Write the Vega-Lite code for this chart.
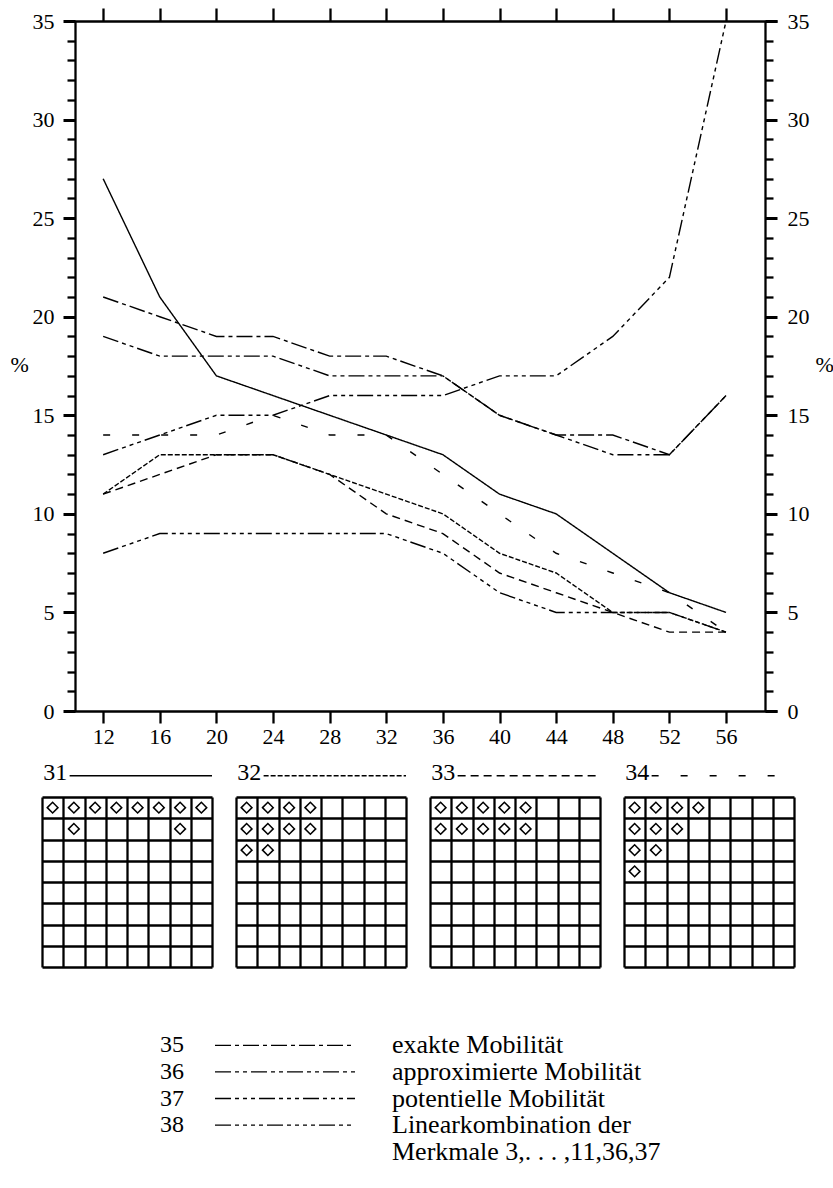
{
  "$schema": "https://vega.github.io/schema/vega-lite/v6.json",
  "padding": {"left": 10, "top": 6, "right": 0, "bottom": 0},
  "background": "white",
  "config": {
    "view": {"stroke": null},
    "font": "Liberation Serif",
    "text": {"font": "Liberation Serif", "fontSize": 21, "color": "black"},
    "axis": {"labelFont": "Liberation Serif", "titleFont": "Liberation Serif", "labelColor": "black", "titleColor": "black", "domainColor": "black", "tickColor": "black", "labelFontSize": 22, "titleFontSize": 22, "titleFontWeight": "normal", "grid": false, "labelFlush": false}
  },
  "datasets": {
    "series": [
      {"x":12,"v":27,"s":"31"},{"x":16,"v":21,"s":"31"},{"x":20,"v":17,"s":"31"},{"x":24,"v":16,"s":"31"},{"x":28,"v":15,"s":"31"},{"x":32,"v":14,"s":"31"},{"x":36,"v":13,"s":"31"},{"x":40,"v":11,"s":"31"},{"x":44,"v":10,"s":"31"},{"x":48,"v":8,"s":"31"},{"x":52,"v":6,"s":"31"},{"x":56,"v":5,"s":"31"},
      {"x":12,"v":11,"s":"32"},{"x":16,"v":13,"s":"32"},{"x":20,"v":13,"s":"32"},{"x":24,"v":13,"s":"32"},{"x":28,"v":12,"s":"32"},{"x":32,"v":11,"s":"32"},{"x":36,"v":10,"s":"32"},{"x":40,"v":8,"s":"32"},{"x":44,"v":7,"s":"32"},{"x":48,"v":5,"s":"32"},{"x":52,"v":5,"s":"32"},{"x":56,"v":4,"s":"32"},
      {"x":12,"v":11,"s":"33"},{"x":16,"v":12,"s":"33"},{"x":20,"v":13,"s":"33"},{"x":24,"v":13,"s":"33"},{"x":28,"v":12,"s":"33"},{"x":32,"v":10,"s":"33"},{"x":36,"v":9,"s":"33"},{"x":40,"v":7,"s":"33"},{"x":44,"v":6,"s":"33"},{"x":48,"v":5,"s":"33"},{"x":52,"v":4,"s":"33"},{"x":56,"v":4,"s":"33"},
      {"x":12,"v":14,"s":"34"},{"x":16,"v":14,"s":"34"},{"x":20,"v":14,"s":"34"},{"x":24,"v":15,"s":"34"},{"x":28,"v":14,"s":"34"},{"x":32,"v":14,"s":"34"},{"x":36,"v":12,"s":"34"},{"x":40,"v":10,"s":"34"},{"x":44,"v":8,"s":"34"},{"x":48,"v":7,"s":"34"},{"x":52,"v":6,"s":"34"},{"x":56,"v":4,"s":"34"},
      {"x":12,"v":21,"s":"35"},{"x":16,"v":20,"s":"35"},{"x":20,"v":19,"s":"35"},{"x":24,"v":19,"s":"35"},{"x":28,"v":18,"s":"35"},{"x":32,"v":18,"s":"35"},{"x":36,"v":17,"s":"35"},{"x":40,"v":15,"s":"35"},{"x":44,"v":14,"s":"35"},{"x":48,"v":14,"s":"35"},{"x":52,"v":13,"s":"35"},{"x":56,"v":16,"s":"35"},
      {"x":12,"v":19,"s":"36"},{"x":16,"v":18,"s":"36"},{"x":20,"v":18,"s":"36"},{"x":24,"v":18,"s":"36"},{"x":28,"v":17,"s":"36"},{"x":32,"v":17,"s":"36"},{"x":36,"v":17,"s":"36"},{"x":40,"v":15,"s":"36"},{"x":44,"v":14,"s":"36"},{"x":48,"v":13,"s":"36"},{"x":52,"v":13,"s":"36"},{"x":56,"v":16,"s":"36"},
      {"x":12,"v":13,"s":"37"},{"x":16,"v":14,"s":"37"},{"x":20,"v":15,"s":"37"},{"x":24,"v":15,"s":"37"},{"x":28,"v":16,"s":"37"},{"x":32,"v":16,"s":"37"},{"x":36,"v":16,"s":"37"},{"x":40,"v":17,"s":"37"},{"x":44,"v":17,"s":"37"},{"x":48,"v":19,"s":"37"},{"x":52,"v":22,"s":"37"},{"x":56,"v":35,"s":"37"},
      {"x":12,"v":8,"s":"38"},{"x":16,"v":9,"s":"38"},{"x":20,"v":9,"s":"38"},{"x":24,"v":9,"s":"38"},{"x":28,"v":9,"s":"38"},{"x":32,"v":9,"s":"38"},{"x":36,"v":8,"s":"38"},{"x":40,"v":6,"s":"38"},{"x":44,"v":5,"s":"38"},{"x":48,"v":5,"s":"38"},{"x":52,"v":5,"s":"38"},{"x":56,"v":4,"s":"38"}
    ],
    "diamonds": [
      {"g":"31","c":1,"r":1},{"g":"31","c":2,"r":1},{"g":"31","c":3,"r":1},{"g":"31","c":4,"r":1},{"g":"31","c":5,"r":1},{"g":"31","c":6,"r":1},{"g":"31","c":7,"r":1},{"g":"31","c":8,"r":1},{"g":"31","c":2,"r":2},{"g":"31","c":7,"r":2},
      {"g":"32","c":1,"r":1},{"g":"32","c":2,"r":1},{"g":"32","c":3,"r":1},{"g":"32","c":4,"r":1},{"g":"32","c":1,"r":2},{"g":"32","c":2,"r":2},{"g":"32","c":3,"r":2},{"g":"32","c":4,"r":2},{"g":"32","c":1,"r":3},{"g":"32","c":2,"r":3},
      {"g":"33","c":1,"r":1},{"g":"33","c":2,"r":1},{"g":"33","c":3,"r":1},{"g":"33","c":4,"r":1},{"g":"33","c":5,"r":1},{"g":"33","c":1,"r":2},{"g":"33","c":2,"r":2},{"g":"33","c":3,"r":2},{"g":"33","c":4,"r":2},{"g":"33","c":5,"r":2},
      {"g":"34","c":1,"r":1},{"g":"34","c":2,"r":1},{"g":"34","c":3,"r":1},{"g":"34","c":4,"r":1},{"g":"34","c":1,"r":2},{"g":"34","c":2,"r":2},{"g":"34","c":3,"r":2},{"g":"34","c":1,"r":3},{"g":"34","c":2,"r":3},{"g":"34","c":1,"r":4}
    ],
    "legend": [
      {"o":1,"n":"35","t":"exakte Mobilität","s":"35"},
      {"o":2,"n":"36","t":"approximierte Mobilität","s":"36"},
      {"o":3,"n":"37","t":"potentielle Mobilität","s":"37"},
      {"o":4,"n":"38","t":"Linearkombination der","s":"38"},
      {"o":5,"n":"","t":"Merkmale 3,. . . ,11,36,37","s":""}
    ]
  },
  "spacing": 14,
  "vconcat": [
    {
      "hconcat": [
        {"width": 22, "height": 10, "data": {"values": [{}]}, "mark": {"type": "point", "opacity": 0}},
        {
          "width": 713, "height": 690,
          "data": {"name": "series"},
          "layer": [
            {
              "mark": {"type": "line", "strokeWidth": 1.4, "color": "black", "clip": false},
              "encoding": {
                "x": {"field": "x", "type": "quantitative", "scale": {"domain": [9.2348, 59.6], "nice": false, "zero": false},
                  "axis": {"orient": "bottom", "values": [12,16,20,24,28,32,36,40,44,48,52,56], "tickSize": 12, "tickWidth": 2.3, "domainWidth": 2.3, "labelPadding": 3, "labelOverlap": false, "title": null}},
                "y": {"field": "v", "type": "quantitative", "scale": {"domain": [0, 35], "nice": false, "zero": false},
                  "axis": {"orient": "left", "offset": -11, "values": [0,1,2,3,4,5,6,7,8,9,10,11,12,13,14,15,16,17,18,19,20,21,22,23,24,25,26,27,28,29,30,31,32,33,34,35],
                    "tickSize": {"condition": {"test": "datum.value % 5 === 0", "value": 12}, "value": 8},
                    "tickWidth": {"condition": {"test": "datum.value % 5 === 0", "value": 3}, "value": 2.3},
                    "labelExpr": "datum.value % 5 === 0 ? datum.label : ''", "labelOverlap": false, "labelPadding": 9, "domainWidth": 2.3,
                    "title": "%", "titleAngle": 0, "titleAlign": "left", "titleBaseline": "middle", "titleX": -65, "titleY": 343}},
                "strokeDash": {"field": "s", "type": "nominal", "legend": null,
                  "scale": {"domain": ["31","32","33","34","35","36","37","38"], "range": [[1,0],[5,2],[8,5],[7,22],[16,4,4,4],[16,4,4,4,4,4],[16,4,4,4,4,4,4,4],[16,4,4,4,4,4,4,4,4,4]]}}
              }
            },
            {
              "mark": {"type": "line", "opacity": 0},
              "encoding": {
                "x": {"field": "x", "type": "quantitative",
                  "axis": {"orient": "top", "values": [12,16,20,24,28,32,36,40,44,48,52,56], "tickSize": 13, "tickWidth": 2.3, "domainWidth": 2.3, "labels": false, "title": null}},
                "y": {"field": "v", "type": "quantitative",
                  "axis": {"orient": "right", "offset": -12, "values": [0,1,2,3,4,5,6,7,8,9,10,11,12,13,14,15,16,17,18,19,20,21,22,23,24,25,26,27,28,29,30,31,32,33,34,35],
                    "tickSize": {"condition": {"test": "datum.value % 5 === 0", "value": 12}, "value": 8},
                    "tickWidth": {"condition": {"test": "datum.value % 5 === 0", "value": 3}, "value": 2.3},
                    "labelExpr": "datum.value % 5 === 0 ? datum.label : ''", "labelOverlap": false, "labelPadding": 10, "domainWidth": 2.3,
                    "title": "%", "titleAngle": 0, "titleAlign": "left", "titleBaseline": "middle", "titleX": 50, "titleY": 343}},
                "detail": {"field": "s", "type": "nominal"}
              }
            }
          ],
          "resolve": {"axis": {"x": "independent", "y": "independent"}}
        }
      ],
      "spacing": 0,
      "bounds": "flush"
    },
    {
      "spacing": 65,
      "vconcat": [
        {
          "spacing": 24,
          "bounds": "flush",
          "hconcat": [
            {
              "width": 170, "height": 170, "data": {"name": "diamonds"}, "transform": [{"filter": "datum.g === '31'"}],
              "layer": [
                {"mark": {"type": "point", "shape": "diamond", "filled": false, "size": 115, "strokeWidth": 1.5, "color": "black", "opacity": 1},
                 "encoding": {
                   "x": {"field": "c", "type": "quantitative", "scale": {"domain": [0.5, 8.5], "nice": false, "zero": false}, "axis": {"values": [0.5,1.5,2.5,3.5,4.5,5.5,6.5,7.5,8.5], "labelOverlap": false, "tickCount": 9, "grid": true, "gridColor": "black", "gridWidth": 2.3, "gridOpacity": 1, "labels": false, "ticks": false, "domain": false, "title": null}},
                   "y": {"field": "r", "type": "quantitative", "scale": {"domain": [0.5, 8.5], "reverse": true, "nice": false, "zero": false}, "axis": {"values": [0.5,1.5,2.5,3.5,4.5,5.5,6.5,7.5,8.5], "labelOverlap": false, "tickCount": 9, "grid": true, "gridColor": "black", "gridWidth": 2.3, "gridOpacity": 1, "labels": false, "ticks": false, "domain": false, "title": null}}
                 }},
                {"transform": [{"aggregate": [{"op": "count", "as": "n"}], "groupby": ["g"]}],
                 "mark": {"type": "text", "align": "left", "baseline": "alphabetic", "fontSize": 24},
                 "encoding": {"x": {"datum": 0.56}, "y": {"datum": -0.3}, "text": {"field": "g"}}},
                {"transform": [{"aggregate": [{"op": "count", "as": "n"}], "groupby": ["g"]}],
                 "mark": {"type": "rule", "strokeWidth": 1.3, "color": "black"},
                 "encoding": {"x": {"datum": 1.8}, "x2": {"datum": 8.5}, "y": {"datum": -0.5},
                   "strokeDash": {"field": "g", "type": "nominal", "legend": null, "scale": {"domain": ["31","32","33","34","35","36","37","38"], "range": [[1,0],[5,2],[8,5],[7,22],[16,4,4,4],[16,4,4,4,4,4],[16,4,4,4,4,4,4,4],[16,4,4,4,4,4,4,4,4,4]]}}}}
              ]
            },
            {
              "width": 170, "height": 170, "data": {"name": "diamonds"}, "transform": [{"filter": "datum.g === '32'"}],
              "layer": [
                {"mark": {"type": "point", "shape": "diamond", "filled": false, "size": 115, "strokeWidth": 1.5, "color": "black", "opacity": 1},
                 "encoding": {
                   "x": {"field": "c", "type": "quantitative", "scale": {"domain": [0.5, 8.5], "nice": false, "zero": false}, "axis": {"values": [0.5,1.5,2.5,3.5,4.5,5.5,6.5,7.5,8.5], "labelOverlap": false, "tickCount": 9, "grid": true, "gridColor": "black", "gridWidth": 2.3, "gridOpacity": 1, "labels": false, "ticks": false, "domain": false, "title": null}},
                   "y": {"field": "r", "type": "quantitative", "scale": {"domain": [0.5, 8.5], "reverse": true, "nice": false, "zero": false}, "axis": {"values": [0.5,1.5,2.5,3.5,4.5,5.5,6.5,7.5,8.5], "labelOverlap": false, "tickCount": 9, "grid": true, "gridColor": "black", "gridWidth": 2.3, "gridOpacity": 1, "labels": false, "ticks": false, "domain": false, "title": null}}
                 }},
                {"transform": [{"aggregate": [{"op": "count", "as": "n"}], "groupby": ["g"]}],
                 "mark": {"type": "text", "align": "left", "baseline": "alphabetic", "fontSize": 24},
                 "encoding": {"x": {"datum": 0.56}, "y": {"datum": -0.3}, "text": {"field": "g"}}},
                {"transform": [{"aggregate": [{"op": "count", "as": "n"}], "groupby": ["g"]}],
                 "mark": {"type": "rule", "strokeWidth": 1.3, "color": "black"},
                 "encoding": {"x": {"datum": 1.8}, "x2": {"datum": 8.5}, "y": {"datum": -0.5},
                   "strokeDash": {"field": "g", "type": "nominal", "legend": null, "scale": {"domain": ["31","32","33","34","35","36","37","38"], "range": [[1,0],[5,2],[8,5],[7,22],[16,4,4,4],[16,4,4,4,4,4],[16,4,4,4,4,4,4,4],[16,4,4,4,4,4,4,4,4,4]]}}}}
              ]
            },
            {
              "width": 170, "height": 170, "data": {"name": "diamonds"}, "transform": [{"filter": "datum.g === '33'"}],
              "layer": [
                {"mark": {"type": "point", "shape": "diamond", "filled": false, "size": 115, "strokeWidth": 1.5, "color": "black", "opacity": 1},
                 "encoding": {
                   "x": {"field": "c", "type": "quantitative", "scale": {"domain": [0.5, 8.5], "nice": false, "zero": false}, "axis": {"values": [0.5,1.5,2.5,3.5,4.5,5.5,6.5,7.5,8.5], "labelOverlap": false, "tickCount": 9, "grid": true, "gridColor": "black", "gridWidth": 2.3, "gridOpacity": 1, "labels": false, "ticks": false, "domain": false, "title": null}},
                   "y": {"field": "r", "type": "quantitative", "scale": {"domain": [0.5, 8.5], "reverse": true, "nice": false, "zero": false}, "axis": {"values": [0.5,1.5,2.5,3.5,4.5,5.5,6.5,7.5,8.5], "labelOverlap": false, "tickCount": 9, "grid": true, "gridColor": "black", "gridWidth": 2.3, "gridOpacity": 1, "labels": false, "ticks": false, "domain": false, "title": null}}
                 }},
                {"transform": [{"aggregate": [{"op": "count", "as": "n"}], "groupby": ["g"]}],
                 "mark": {"type": "text", "align": "left", "baseline": "alphabetic", "fontSize": 24},
                 "encoding": {"x": {"datum": 0.56}, "y": {"datum": -0.3}, "text": {"field": "g"}}},
                {"transform": [{"aggregate": [{"op": "count", "as": "n"}], "groupby": ["g"]}],
                 "mark": {"type": "rule", "strokeWidth": 1.3, "color": "black"},
                 "encoding": {"x": {"datum": 1.8}, "x2": {"datum": 8.5}, "y": {"datum": -0.5},
                   "strokeDash": {"field": "g", "type": "nominal", "legend": null, "scale": {"domain": ["31","32","33","34","35","36","37","38"], "range": [[1,0],[5,2],[8,5],[7,22],[16,4,4,4],[16,4,4,4,4,4],[16,4,4,4,4,4,4,4],[16,4,4,4,4,4,4,4,4,4]]}}}}
              ]
            },
            {
              "width": 170, "height": 170, "data": {"name": "diamonds"}, "transform": [{"filter": "datum.g === '34'"}],
              "layer": [
                {"mark": {"type": "point", "shape": "diamond", "filled": false, "size": 115, "strokeWidth": 1.5, "color": "black", "opacity": 1},
                 "encoding": {
                   "x": {"field": "c", "type": "quantitative", "scale": {"domain": [0.5, 8.5], "nice": false, "zero": false}, "axis": {"values": [0.5,1.5,2.5,3.5,4.5,5.5,6.5,7.5,8.5], "labelOverlap": false, "tickCount": 9, "grid": true, "gridColor": "black", "gridWidth": 2.3, "gridOpacity": 1, "labels": false, "ticks": false, "domain": false, "title": null}},
                   "y": {"field": "r", "type": "quantitative", "scale": {"domain": [0.5, 8.5], "reverse": true, "nice": false, "zero": false}, "axis": {"values": [0.5,1.5,2.5,3.5,4.5,5.5,6.5,7.5,8.5], "labelOverlap": false, "tickCount": 9, "grid": true, "gridColor": "black", "gridWidth": 2.3, "gridOpacity": 1, "labels": false, "ticks": false, "domain": false, "title": null}}
                 }},
                {"transform": [{"aggregate": [{"op": "count", "as": "n"}], "groupby": ["g"]}],
                 "mark": {"type": "text", "align": "left", "baseline": "alphabetic", "fontSize": 24},
                 "encoding": {"x": {"datum": 0.56}, "y": {"datum": -0.3}, "text": {"field": "g"}}},
                {"transform": [{"aggregate": [{"op": "count", "as": "n"}], "groupby": ["g"]}],
                 "mark": {"type": "rule", "strokeWidth": 1.3, "color": "black"},
                 "encoding": {"x": {"datum": 1.8}, "x2": {"datum": 8.5}, "y": {"datum": -0.5},
                   "strokeDash": {"field": "g", "type": "nominal", "legend": null, "scale": {"domain": ["31","32","33","34","35","36","37","38"], "range": [[1,0],[5,2],[8,5],[7,22],[16,4,4,4],[16,4,4,4,4,4],[16,4,4,4,4,4,4,4],[16,4,4,4,4,4,4,4,4,4]]}}}}
              ]
            }
          ]
        },
        {
          "spacing": 37,
          "bounds": "flush",
          "hconcat": [
            {"width": 81, "height": 10, "data": {"values": [{}]}, "mark": {"type": "point", "opacity": 0}},
            {
              "width": 18, "height": 133, "data": {"name": "legend"},
              "mark": {"type": "text", "align": "left", "baseline": "middle", "fontSize": 24},
              "encoding": {
                "x": {"datum": 0, "type": "quantitative", "scale": {"domain": [0, 1]}, "axis": null},
                "y": {"field": "o", "type": "ordinal", "scale": {"type": "point", "domain": [1,2,3,4,5], "padding": 0.5}, "axis": null},
                "text": {"field": "n"}
              }
            },
            {
              "width": 140, "height": 133, "data": {"name": "legend"},
              "transform": [{"filter": "datum.s !== ''"}],
              "mark": {"type": "rule", "strokeWidth": 1.3, "color": "black"},
              "encoding": {
                "x": {"datum": 0, "type": "quantitative", "scale": {"domain": [0, 1]}, "axis": null},
                "x2": {"datum": 1},
                "y": {"field": "o", "type": "ordinal", "scale": {"type": "point", "domain": [1,2,3,4,5], "padding": 0.5}, "axis": null},
                "strokeDash": {"field": "s", "type": "nominal", "legend": null, "scale": {"domain": ["31","32","33","34","35","36","37","38"], "range": [[1,0],[5,2],[8,5],[7,22],[16,4,4,4],[16,4,4,4,4,4],[16,4,4,4,4,4,4,4],[16,4,4,4,4,4,4,4,4,4]]}}
              }
            },
            {
              "width": 360, "height": 133, "data": {"name": "legend"},
              "mark": {"type": "text", "align": "left", "baseline": "middle", "fontSize": 26},
              "encoding": {
                "x": {"datum": 0, "type": "quantitative", "scale": {"domain": [0, 1]}, "axis": null},
                "y": {"field": "o", "type": "ordinal", "scale": {"type": "point", "domain": [1,2,3,4,5], "padding": 0.5}, "axis": null},
                "text": {"field": "t"}
              }
            }
          ]
        }
      ]
    }
  ]
}
